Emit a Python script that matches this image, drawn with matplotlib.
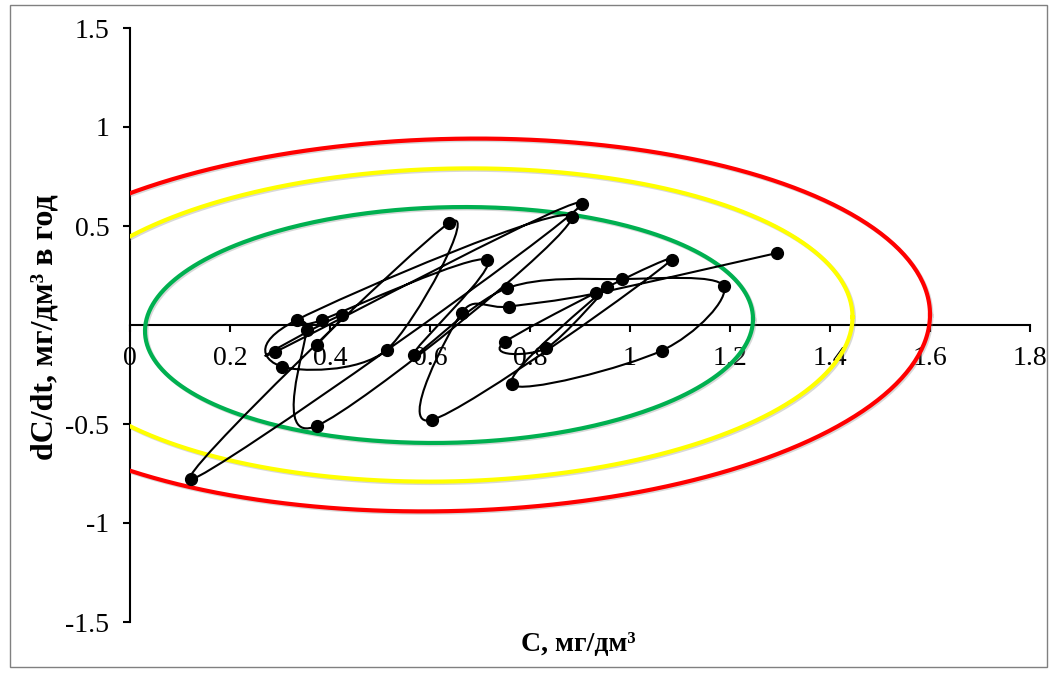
import numpy as np
import matplotlib
matplotlib.use("Agg")
import matplotlib.pyplot as plt
import matplotlib.patheffects as pe
from matplotlib.path import Path
from matplotlib.patches import PathPatch, Rectangle

# phase trajectory: concentration vs. its yearly change
conc = [0.374, 0.423, 0.290, 0.903, 0.122, 0.638, 0.513, 0.303, 0.333, 0.883,
        0.373, 0.353, 0.383, 0.713, 0.567, 0.753, 0.983, 1.187, 1.063, 0.763,
        0.953, 0.832, 0.750, 1.083, 0.603, 0.663, 0.758, 0.932, 1.293]
rate = [-0.100, 0.050, -0.136, 0.610, -0.780, 0.515, -0.126, -0.210, 0.025, 0.545,
        -0.510, -0.025, 0.025, 0.330, -0.150, 0.185, 0.232, 0.197, -0.130, -0.300,
        0.190, -0.117, -0.085, 0.330, -0.480, 0.060, 0.093, 0.160, 0.363]

# boundary ellipses: centre C, half-width, half-height, skew
ell_names = ["red", "yellow", "green"]
ell_colors = ["#FF0000", "#FFFF00", "#00B050"]
ell_cx = [0.640, 0.640, 0.638]
ell_a = [0.960, 0.805, 0.608]
ell_b = [0.940, 0.790, 0.595]
ell_skew = [0.055, 0.050, 0.050]

xticks = [0, 0.2, 0.4, 0.6, 0.8, 1, 1.2, 1.4, 1.6, 1.8]
xticklabels = ["0", "0.2", "0.4", "0.6", "0.8", "1", "1.2", "1.4", "1.6", "1.8"]
yticks = [1.5, 1, 0.5, -0.5, -1, -1.5]
yticklabels = ["1.5", "1", "0.5", "-0.5", "-1", "-1.5"]

plt.rcParams["font.family"] = ["Liberation Serif", "DejaVu Serif"]

fig = plt.figure(figsize=(10.55, 6.75), dpi=100)
ax = fig.add_axes([130 / 1055, 53 / 675, 900 / 1055, 594 / 675])

# ellipses
shadow = [pe.SimpleLineShadow(offset=(1, -1), shadow_color="gray", alpha=0.3), pe.Normal()]
t = np.linspace(0, 2 * np.pi, 400)
for cx, a, b, k, col in zip(ell_cx, ell_a, ell_b, ell_skew, ell_colors):
    ex = cx + a * np.cos(t)
    ey = b * np.sin(t) + k * a * np.cos(t)
    ax.plot(ex, ey, color=col, lw=3, zorder=3, path_effects=shadow, clip_on=True)


# smoothed line through points (cubic bezier, like a spreadsheet "smooth line")
def smooth_path(xs, ys):
    P = np.column_stack([xs, ys])
    n = len(P)
    verts = [P[0]]
    codes = [Path.MOVETO]
    for i in range(n - 1):
        p0 = P[i - 1] if i > 0 else P[i]
        p1 = P[i]
        p2 = P[i + 1]
        p3 = P[i + 2] if i + 2 < n else P[i + 1]
        c1 = p1 + (p2 - p0) / 6.0
        c2 = p2 - (p3 - p1) / 6.0
        verts += [c1, c2, p2]
        codes += [Path.CURVE4] * 3
    return Path(verts, codes)


ax.add_patch(PathPatch(smooth_path(conc, rate), facecolor="none", edgecolor="black",
                       lw=1.5, zorder=4))
ax.plot(conc, rate, "o", color="black", ms=8.5, zorder=5)

ax.set_xlim(0, 1.8)
ax.set_ylim(-1.5, 1.5)

ax.spines["top"].set_visible(False)
ax.spines["right"].set_visible(False)
ax.spines["bottom"].set_position(("data", 0))
for s in ["left", "bottom"]:
    ax.spines[s].set_linewidth(1.5)
    ax.spines[s].set_zorder(2)

ax.set_xticks(xticks)
ax.set_xticklabels(xticklabels)
ax.set_yticks(yticks)
ax.set_yticklabels(yticklabels)
ax.tick_params(axis="both", direction="out", length=5, width=1.5, labelsize=20, pad=10)

fig.text(578 / 1055, 1 - 645 / 675, "C, мг/дм³", ha="center", va="center",
         fontsize=20, fontweight="bold")
fig.text(45 / 1055, 1 - 327 / 675, "dC/dt, мг/дм³ в год", ha="center", va="center",
         rotation=90, fontsize=23, fontweight="bold")

fig.patches.append(Rectangle((10 / 1055, 1 - 667 / 675), 1037 / 1055, 662 / 675,
                             transform=fig.transFigure, fill=False,
                             edgecolor="#808080", lw=1))

fig.savefig("out.png", dpi=100)
